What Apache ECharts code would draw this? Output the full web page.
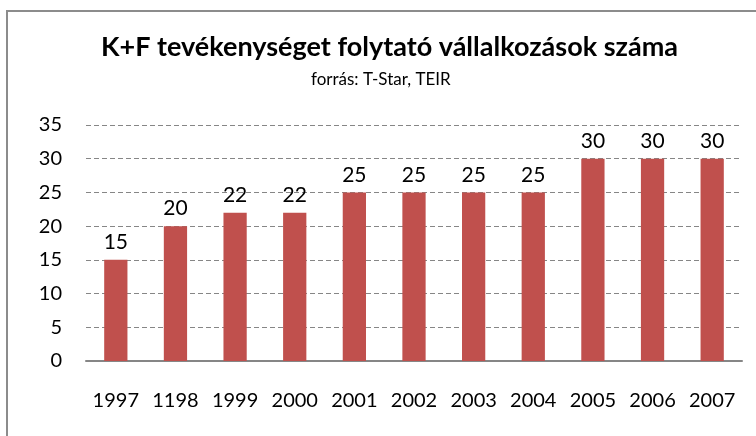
<!DOCTYPE html>
<html>
<head>
<meta charset="utf-8">
<script src="https://cdn.jsdelivr.net/npm/echarts@6/dist/echarts.min.js"></script>
<style>
  html, body { margin: 0; padding: 0; background: #fff; }
  #chart { width: 756px; height: 436px; }
</style>
</head>
<body>
<div id="chart"></div>
<script>
const TITLE = 'K+F tevékenységet folytató vállalkozások száma'
const SUBTITLE = 'forrás: T-Star, TEIR'

// évek (a forrásban "1198" szerepel, megtartva)
const years = ['1997', '1198', '1999', '2000', '2001', '2002', '2003', '2004', '2005', '2006', '2007']
const counts = [15, 20, 22, 22, 25, 25, 25, 25, 30, 30, 30]

const FONT = 'Lato, "Open Sans", sans-serif'
const BAR = '#C0504D'
const GRID_GRAY = '#868686'

const chart = echarts.init(document.getElementById('chart'), null, { renderer: 'canvas' })

chart.setOption({
  animation: false,
  backgroundColor: '#fff',
  title: [{
    text: TITLE,
    left: 101,
    top: 34,
    padding: 0,
    textStyle: { fontFamily: FONT, fontSize: 27, fontWeight: 'bold', color: '#000' },
  }, {
    text: SUBTITLE,
    left: 311,
    top: 71,
    padding: 0,
    textStyle: { fontFamily: FONT, fontSize: 17, fontWeight: 'normal', color: '#000' },
  }],
  grid: { left: 86, right: 14, top: 125, bottom: 75, containLabel: false },
  xAxis: {
    type: 'category',
    data: years,
    axisLine: { lineStyle: { color: GRID_GRAY, width: 2 } },
    axisTick: { show: false },
    axisLabel: { fontFamily: FONT, fontSize: 20, color: '#000', margin: 30, interval: 0 },
  },
  yAxis: {
    type: 'value',
    min: 0,
    max: 35,
    interval: 5,
    axisLine: { show: false },
    axisTick: { show: false },
    axisLabel: { fontFamily: FONT, fontSize: 20, color: '#000', margin: 24 },
    splitLine: { lineStyle: { color: GRID_GRAY, type: [5, 3], width: 1 } },
  },
  series: [{
    type: 'bar',
    data: counts,
    barWidth: '39%',
    itemStyle: { color: BAR },
    label: {
      show: true,
      position: 'top',
      distance: 7,
      fontFamily: FONT,
      fontSize: 21,
      color: '#000',
    },
  }],
  graphic: [{
    type: 'polyline',
    shape: { points: [[7, 436], [7, 11], [756, 11]] },
    style: { stroke: '#8c8c8c', lineWidth: 2, fill: null },
    silent: true,
  }],
})
</script>
</body>
</html>
